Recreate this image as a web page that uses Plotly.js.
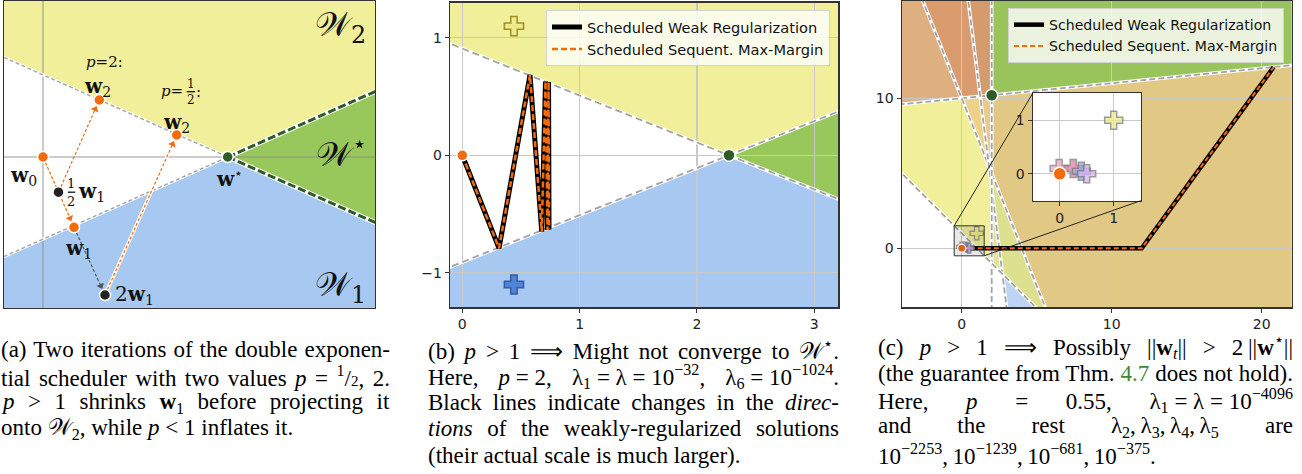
<!DOCTYPE html>
<html>
<head>
<meta charset="utf-8">
<script src="https://cdn.plot.ly/plotly-3.0.1.min.js"></script>
<style>html,body{margin:0;padding:0;background:#fff;overflow:hidden}</style>
</head>
<body>
<div id="chart" style="width:1302px;height:474px"></div>
<script>
// ================= DATA =================
// Panel (a): sketch of two iterations of the double exponential scheduler
const aNormals = [[0.541, 1.217], [0.541, -1.217]]; // W2 (yellow), W1 (blue): boundary w·x = 1
const aWstar   = [1.847, 0];
const aW0      = [0, 0];
const aHalfW1  = [0.155, -0.352];
const aW1      = [0.31, -0.703];
const aTwoW1   = [0.62, -1.38];
const aW2p2    = [0.563, 0.57];
const aW2pHalf = [1.337, 0.22];

// Panel (b)
const bPoints = [[0.44, 1.1], [0.44, -1.1]];          // yellow (W2) and blue (W1) data points
const bWstar  = [2.273, 0];
const bW0     = [0, 0];
const bPathX  = [0, 0.313, 0.577, 0.677, 0.709, 0.726, 0.735, 0.739];
const bPathY  = [0, -0.791, 0.683, -0.650, 0.628, -0.636, 0.624, -0.632];
const bXTicks = [0, 1, 2, 3];
const bYTicks = [-1, 0, 1];

// Panel (c)
const cPoints = [[-0.01, 0.1], [0.25, 0.1], [0.4, 0.05], [0.5, 0], [1, 1]];
const cPointColors = ['#f3a9c4', '#e67ea8', '#93a8ef', '#d6b0f1', '#eeee84'];
const cWstar  = [2, 10.2];
const cW0     = [0, 0];
const cPathX  = [0, 12, 20.8];
const cPathY  = [0, 0, 12.08];
const cXTicks = [0, 10, 20];
const cYTicks = [0, 10];
const insetTicks = [0, 1];

const legendNames = ['Scheduled Weak Regularization', 'Scheduled Sequent. Max-Margin'];

// ================= STYLE / GEOMETRY =================
const W = 1302, H = 474;
const dom  = (l, r) => [l / W, r / W];
const ydom = (t, b) => [1 - b / H, 1 - t / H];
const axA = {x: [-0.39, 3.32],   y: [-1.51, 1.56],   xd: dom(4, 375),        yd: ydom(1, 308)};
const axB = {x: [-0.105, 3.205], y: [-1.294, 1.299], xd: dom(450, 838.3),    yd: ydom(2.7, 307.3)};
const axC = {x: [-4, 22],        y: [-3.93, 16.5],   xd: dom(901.7, 1291.7), yd: ydom(0.7, 307.3)};
const axI = {x: [-0.5, 1.5],     y: [-0.5, 1.5],     xd: dom(1032.7, 1140.7), yd: ydom(93.3, 200.7)};

const ORANGE = '#f26b0c', DKGREEN = '#2e5b27';
const YEL = '#f1ef99', BLU = '#a7c9f1', GRN = '#98c85c';
const abColors = {'10': YEL, '01': BLU, '11': GRN};
const cColors = {
  '10001': '#deb07f', '11001': '#da9c6e', '11101': '#d69b6d', '11111': '#99c45b',
  '00001': '#f1ef99', '01001': '#efd189', '01101': '#e8cb86', '00101': '#ead58d',
  '01111': '#e1c885', '00110': '#bcd5f2', '00011': '#e2e498', '00111': '#dde08f'
};

function clipHalf(poly, a, b, keepGE) {
  const out = [];
  const f = p => (a * p[0] + b * p[1] - 1) * (keepGE ? 1 : -1);
  for (let i = 0; i < poly.length; i++) {
    const P = poly[i], Q = poly[(i + 1) % poly.length];
    const fp = f(P), fq = f(Q);
    if (fp >= 0) out.push(P);
    if ((fp >= 0) !== (fq >= 0)) {
      const t = fp / (fp - fq);
      out.push([P[0] + t * (Q[0] - P[0]), P[1] + t * (Q[1] - P[1])]);
    }
  }
  return out;
}
function regionShapes(normals, ax, xref, yref, colors) {
  const n = normals.length, shapes = [];
  const px = (ax.x[1] - ax.x[0]) * 0.05, py = (ax.y[1] - ax.y[0]) * 0.05;
  for (let m = 0; m < (1 << n); m++) {
    let poly = [[ax.x[0]-px, ax.y[0]-py], [ax.x[1]+px, ax.y[0]-py], [ax.x[1]+px, ax.y[1]+py], [ax.x[0]-px, ax.y[1]+py]];
    let key = '';
    for (let i = 0; i < n; i++) {
      const s = (m >> (n - 1 - i)) & 1;
      key += s;
      poly = clipHalf(poly, normals[i][0], normals[i][1], s === 1);
      if (poly.length < 3) break;
    }
    if (poly.length < 3 || !colors[key]) continue;
    shapes.push({type: 'path', xref, yref, layer: 'below', fillcolor: colors[key], line: {width: 0},
      path: 'M' + poly.map(p => p[0].toFixed(4) + ',' + p[1].toFixed(4)).join('L') + 'Z'});
  }
  return shapes;
}
function lineSeg(n, ax, lo, hi) {
  const [a, b] = n;
  const xs = ax.x[1] - ax.x[0], ys = ax.y[1] - ax.y[0];
  if (Math.abs(a) * xs > Math.abs(b) * ys) {
    const y0 = ax.y[0] - ys * 0.1, y1 = ax.y[1] + ys * 0.1;
    return {x: [(1 - b * y0) / a, (1 - b * y1) / a], y: [y0, y1]};
  }
  const x0 = lo !== undefined ? lo : ax.x[0] - xs * 0.1, x1 = hi !== undefined ? hi : ax.x[1] + xs * 0.1;
  return {x: [x0, x1], y: [(1 - a * x0) / b, (1 - a * x1) / b]};
}
const traces = [];
function dashedBoundary(seg, xa, ya, color, width, dash, under) {
  traces.push({x: seg.x, y: seg.y, xaxis: xa, yaxis: ya, mode: 'lines', showlegend: false, hoverinfo: 'skip',
    line: {color: '#ffffff', width: under}});
  traces.push({x: seg.x, y: seg.y, xaxis: xa, yaxis: ya, mode: 'lines', showlegend: false, hoverinfo: 'skip',
    line: {color, width, dash}});
}
function dot(pt, xa, ya, color, size) {
  traces.push({x: [pt[0]], y: [pt[1]], xaxis: xa, yaxis: ya, mode: 'markers', showlegend: false, hoverinfo: 'skip',
    marker: {color, size, line: {color: '#ffffff', width: 1.5}}});
}

// ---------- Panel (a) traces ----------
aNormals.forEach(n => {
  dashedBoundary(lineSeg(n, axA, axA.x[0] - 0.3, aWstar[0]), 'x', 'y', '#a9a9a9', 1.5, '4px,2.5px', 3);
  dashedBoundary(lineSeg(n, axA, aWstar[0], axA.x[1] + 0.3), 'x', 'y', DKGREEN, 3, '8px,3px', 5);
});
const aArrows = [[aW0, aW1, ORANGE, false], [aHalfW1, aW2p2, ORANGE, false],
                 [aW1, aTwoW1, '#555555', false], [aTwoW1, aW2pHalf, ORANGE, true]];
aArrows.forEach(([p, q, col, halo]) => {
  const dx = q[0] - p[0], dy = q[1] - p[1], L = Math.hypot(dx, dy), ux = dx / L, uy = dy / L;
  const s0 = 0.06, s1 = 0.1;
  const xs = [p[0] + ux * s0, q[0] - ux * s1], ys = [p[1] + uy * s0, q[1] - uy * s1];
  if (halo) traces.push({x: xs, y: ys, mode: 'lines', showlegend: false, hoverinfo: 'skip', line: {color: '#fff', width: 3.5}});
  traces.push({x: xs, y: ys, mode: 'lines', showlegend: false, hoverinfo: 'skip', line: {color: col, width: 1.2, dash: '3px,2px'}});
  traces.push({x: [xs[1]], y: [ys[1]], mode: 'markers', showlegend: false, hoverinfo: 'skip',
    marker: {symbol: 'triangle-up', size: 7, color: col, angle: Math.atan2(ux, uy) * 180 / Math.PI, line: {width: 0}}});
});
[aW0, aW1, aW2p2, aW2pHalf].forEach(p => dot(p, 'x', 'y', ORANGE, 11));
[aHalfW1, aTwoW1].forEach(p => dot(p, 'x', 'y', '#222222', 11));
dot(aWstar, 'x', 'y', DKGREEN, 11);

// ---------- Panel (b) traces ----------
bPoints.forEach(n => dashedBoundary(lineSeg(n, axB), 'x2', 'y2', '#a3a3a3', 1.8, '7px,4px', 3.5));
traces.push({x: bPathX, y: bPathY, xaxis: 'x2', yaxis: 'y2', mode: 'lines', name: legendNames[0], legend: 'legend',
  line: {color: '#000000', width: 5}});
traces.push({x: bPathX, y: bPathY, xaxis: 'x2', yaxis: 'y2', mode: 'lines', name: legendNames[1], legend: 'legend',
  line: {color: ORANGE, width: 2.5, dash: '6px,3px'}});
traces.push({x: bPoints.map(p => p[0]), y: bPoints.map(p => p[1]), xaxis: 'x2', yaxis: 'y2', mode: 'markers',
  showlegend: false, hoverinfo: 'skip',
  marker: {symbol: 'cross', size: 16, color: ['#f0ea8e', '#4d7fd2'], opacity: 0.95,
           line: {color: ['#9c8d1e', '#2d58a6'], width: 1.5}}});
dot(bW0, 'x2', 'y2', ORANGE, 11);
dot(bWstar, 'x2', 'y2', DKGREEN, 12);

// ---------- Panel (c) traces ----------
cPoints.forEach(n => dashedBoundary(lineSeg(n, axC), 'x3', 'y3', '#a3a3a3', 1.8, '6px,3px', 3.5));
traces.push({x: cPathX, y: cPathY, xaxis: 'x3', yaxis: 'y3', mode: 'lines', name: legendNames[0], legend: 'legend2',
  line: {color: '#000000', width: 4.5}});
traces.push({x: cPathX, y: cPathY, xaxis: 'x3', yaxis: 'y3', mode: 'lines', name: legendNames[1], legend: 'legend2',
  line: {color: ORANGE, width: 2, dash: '5px,3px'}});
traces.push({x: cPoints.map(p => p[0]), y: cPoints.map(p => p[1]), xaxis: 'x3', yaxis: 'y3', mode: 'markers',
  showlegend: false, hoverinfo: 'skip',
  marker: {symbol: 'cross', size: cPoints.map((p, i) => i === 4 ? 11 : 8), color: cPointColors, opacity: 0.8,
           line: {color: '#808080', width: 1.2}}});
dot(cW0, 'x3', 'y3', ORANGE, 8);
dot(cWstar, 'x3', 'y3', DKGREEN, 12);
// inset
traces.push({x: cPoints.map(p => p[0]), y: cPoints.map(p => p[1]), xaxis: 'x4', yaxis: 'y4', mode: 'markers',
  showlegend: false, hoverinfo: 'skip',
  marker: {symbol: 'cross', size: 15, color: cPointColors, opacity: 0.75, line: {color: '#7a7a7a', width: 1.5}}});
dot(cW0, 'x4', 'y4', ORANGE, 13);

// ---------- shapes ----------
let shapes = [];
shapes = shapes.concat(regionShapes(aNormals, axA, 'x', 'y', abColors));
shapes = shapes.concat(regionShapes(bPoints, axB, 'x2', 'y2', abColors));
shapes = shapes.concat(regionShapes(cPoints, axC, 'x3', 'y3', cColors));
shapes.push({type: 'rect', xref: 'x4', yref: 'y4', layer: 'below', x0: axI.x[0] - 1, x1: axI.x[1] + 1,
  y0: axI.y[0] - 1, y1: axI.y[1] + 1, fillcolor: '#ffffff', line: {width: 0}});
shapes.push({type: 'rect', xref: 'x3', yref: 'y3', layer: 'above', x0: axI.x[0], x1: axI.x[1], y0: axI.y[0], y1: axI.y[1],
  fillcolor: 'rgba(0,0,0,0.09)', line: {color: '#333', width: 1}});
function paperToC(fx, fy) {
  const tx = (fx - axC.xd[0]) / (axC.xd[1] - axC.xd[0]), ty = (fy - axC.yd[0]) / (axC.yd[1] - axC.yd[0]);
  return [axC.x[0] + tx * (axC.x[1] - axC.x[0]), axC.y[0] + ty * (axC.y[1] - axC.y[0])];
}
const insTL = paperToC(axI.xd[0], axI.yd[1]), insBR = paperToC(axI.xd[1], axI.yd[0]);
shapes.push({type: 'line', xref: 'x3', yref: 'y3', layer: 'above', x0: axI.x[0], y0: axI.y[1], x1: insTL[0], y1: insTL[1], line: {color: '#111', width: 0.9}});
shapes.push({type: 'line', xref: 'x3', yref: 'y3', layer: 'above', x0: axI.x[1], y0: axI.y[0], x1: insBR[0], y1: insBR[1], line: {color: '#111', width: 0.9}});
// fraction bars in panel (a)
function fracBar(pt, x0, x1, y) {
  shapes.push({type: 'line', xref: 'x', yref: 'y', xsizemode: 'pixel', ysizemode: 'pixel', xanchor: pt[0], yanchor: pt[1],
    x0, x1, y0: y, y1: y, line: {color: '#111', width: 1.3}});
}
fracBar(aHalfW1, 9.4, 16.7, 0);
fracBar(aW2pHalf, 10, 18.3, 43.3);

// ---------- annotations ----------
const ann = [];
const LF = 'DejaVu Serif';
function lab(pt, text, dx, dy, size, anchor) {
  ann.push({xref: 'x', yref: 'y', x: pt[0], y: pt[1], xshift: dx, yshift: dy, text, showarrow: false,
    xanchor: anchor || 'center', yanchor: 'middle', font: {family: LF, size: size || 20, color: '#111'}});
}
lab(aW0, '<b>w</b><sub>0</sub>', -20, -19);
lab(aHalfW1, '1', 12.7, 9, 13);
lab(aHalfW1, '2', 12.7, -9.5, 13);
lab(aHalfW1, '<b>w</b><sub>1</sub>', 17, 0, 20, 'left');
lab(aW1, '<b>w</b><sub>1</sub>', 4.5, -21.5);
lab(aTwoW1, '2<b>w</b><sub>1</sub>', 8, 0, 20, 'left');
lab(aW2p2, '<b>w</b><sub>2</sub>', -2, 12.5);
lab(aW2p2, '<i>p</i>=2:', 4.7, 38, 15);
lab(aW2pHalf, '<b>w</b><sub>2</sub>', 0, 12);
lab(aW2pHalf, '<i>p</i>=', 8, 44, 15, 'right');
lab(aW2pHalf, '1', 14.3, 51.5, 12);
lab(aW2pHalf, '2', 14.3, 35.5, 12);
lab(aW2pHalf, ':', 21.5, 43, 15);
lab(aWstar, '<b>w</b><sup>⋆</sup>', 2, -21);
function paperLab(px, py, text, size) {
  ann.push({xref: 'paper', yref: 'paper', x: px / W, y: 1 - py / H, text, showarrow: false, xanchor: 'center', yanchor: 'middle',
    font: {family: LF, size, color: '#111'}});
}
paperLab(340, 27, '𝒲<sub>2</sub>', 34);
paperLab(342, 152, '𝒲<sup>⋆</sup>', 34);
paperLab(340, 286, '𝒲<sub>1</sub>', 34);

// captions
const captions = [
  // [text, left, right, yCenter, justify]
  ['(a) Two iterations of the double exponen-', 1, 390, 349.5, true],
  ['tial scheduler with two values <i>p</i> = <sup>1</sup>/<span style="font-size:15px">2</span>, 2.', 1, 390, 376, true],
  ['<i>p</i> &gt; 1 shrinks <b>w</b><sub>1</sub> before projecting it', 1, 390, 402.5, true],
  ['onto 𝒲<sub>2</sub>, while <i>p</i> &lt; 1 inflates it.', 1, 0, 429.3, false],
  ['(b) <i>p</i> &gt; 1 ⟹ Might not converge to 𝒲<sup>⋆</sup>.', 428, 839, 349.5, true],
  ['Here, <i>p</i>\u2005=\u20052, λ<sub>1</sub>\u2005=\u2005λ\u2005=\u200510<sup>−32</sup>, λ<sub>6</sub>\u2005=\u200510<sup>−1024</sup>.', 428, 839, 376, true],
  ['Black lines indicate changes in the <i>direc-</i>', 428, 839, 402.5, true],
  ['<i>tions</i> of the weakly-regularized solutions', 428, 839, 428.5, true],
  ['(their actual scale is much larger).', 428, 0, 455, false],
  ['(c) <i>p</i> &gt; 1 ⟹ Possibly ||<b>w</b><sub><i>t</i></sub>|| &gt; 2\u2009||<b>w</b><sup>⋆</sup>||', 878, 1293, 346.5, true],
  ['(the guarantee from Thm. <span style="color:#3b8a3b">4.7</span> does not hold).', 878, 1293, 373, true],
  ['Here, <i>p</i> = 0.55, λ<sub>1</sub>\u2005=\u2005λ\u2005=\u200510<sup>−4096</sup>', 878, 1293, 400, true],
  ['and the rest λ<sub>2</sub>,\u2009λ<sub>3</sub>,\u2009λ<sub>4</sub>,\u2009λ<sub>5</sub> are', 878, 1293, 426.7, true],
  ['10<sup>−2253</sup>,\u200910<sup>−1239</sup>,\u200910<sup>−681</sup>,\u200910<sup>−375</sup>.', 878, 0, 454, false]
];
const capIdx = [];
captions.forEach(c => {
  capIdx.push(ann.length);
  ann.push({xref: 'paper', yref: 'paper', x: c[1] / W, y: 1 - c[3] / H, xanchor: 'left', yanchor: 'middle',
    text: c[0], showarrow: false, font: {family: 'Liberation Serif', size: 23, color: '#000'}});
});

// ---------- layout ----------
function axis(ax, isX, ticks, extra) {
  return Object.assign({
    domain: isX ? ax.xd : ax.yd, range: isX ? ax.x : ax.y, showline: true, mirror: true, linecolor: '#333', linewidth: 1.2,
    zeroline: false, showgrid: true, gridcolor: '#c9c9c9', gridwidth: 1.2, tickmode: 'array', tickvals: ticks,
    ticks: 'outside', ticklen: 4, tickcolor: '#333', tickfont: {family: 'DejaVu Sans', size: 14, color: '#222'},
    fixedrange: true
  }, extra || {});
}
const legStyle = {bgcolor: 'rgba(255,255,255,0.8)', bordercolor: '#d3d3d3', borderwidth: 1, xanchor: 'right', yanchor: 'top',
  tracegroupgap: 0, font: {family: 'DejaVu Sans', size: 14.6, color: '#111'}};
const layout = {
  width: W, height: H, margin: {l: 0, r: 0, t: 0, b: 0}, paper_bgcolor: '#ffffff', plot_bgcolor: '#ffffff',
  showlegend: true,
  xaxis:  axis(axA, true, [0], {anchor: 'y', ticks: '', showticklabels: false, gridcolor: 'rgba(140,140,140,0.45)', gridwidth: 1.5}),
  yaxis:  axis(axA, false, [0], {anchor: 'x', ticks: '', showticklabels: false, gridcolor: 'rgba(140,140,140,0.45)', gridwidth: 1.5}),
  xaxis2: axis(axB, true, bXTicks, {anchor: 'y2'}),
  yaxis2: axis(axB, false, bYTicks, {anchor: 'x2'}),
  xaxis3: axis(axC, true, cXTicks, {anchor: 'y3'}),
  yaxis3: axis(axC, false, cYTicks, {anchor: 'x3'}),
  xaxis4: axis(axI, true, insetTicks, {anchor: 'y4'}),
  yaxis4: axis(axI, false, insetTicks, {anchor: 'x4'}),
  legend:  Object.assign({}, legStyle, {x: 830 / W, y: 1 - 10 / H}),
  legend2: Object.assign({}, legStyle, {x: 1284 / W, y: 1 - 8 / H, font: {family: 'DejaVu Sans', size: 14.1, color: '#111'}}),
  shapes, annotations: ann
};

Plotly.newPlot('chart', traces, layout, {staticPlot: true, displayModeBar: false}).then(() => {
  captions.forEach((c, k) => {
    const g = document.querySelector('#chart .annotation[data-index="' + capIdx[k] + '"]');
    if (!g) return;
    const t = g.querySelector('text.annotation-text');
    if (!t) return;
    if (c[4]) {
      const n = (t.textContent.match(/[ \u00a0]/g) || []).length;
      if (n) {
        const r = t.getBoundingClientRect();
        t.style.wordSpacing = ((c[2] - c[1] - r.width) / n) + 'px';
      }
    }
    const r2 = t.getBoundingClientRect();
    const dx = c[1] - r2.left;
    t.setAttribute('transform', ((t.getAttribute('transform') || '') + ' translate(' + dx + ',0)').trim());
  });
});
</script>
</body>
</html>
